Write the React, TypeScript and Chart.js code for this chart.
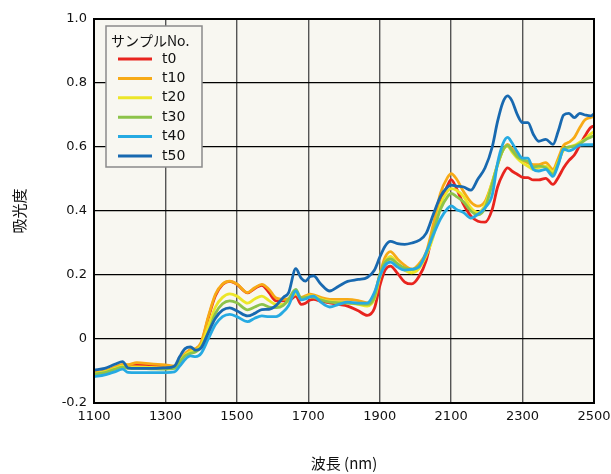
import React, { useEffect, useRef } from "react";
import { Chart, registerables } from "chart.js";

Chart.register(...registerables);

const wavelengths = [
  1100, 1130, 1160, 1180, 1195, 1220, 1260, 1300, 1325, 1340, 1355, 1370, 1385, 1400,
  1420, 1440, 1460, 1480, 1500, 1530, 1550, 1570, 1590, 1610,
  1630, 1645, 1665, 1680, 1692, 1705, 1715, 1735, 1760, 1785, 1810,
  1840, 1865, 1885, 1900, 1915, 1930, 1950, 1970, 1990, 2010, 2030,
  2050, 2070, 2090, 2100, 2115, 2135, 2155, 2175, 2195, 2215, 2230, 2245,
  2258, 2270, 2285, 2300, 2315, 2330, 2345, 2365, 2385, 2400, 2415, 2430, 2445, 2460, 2475, 2490, 2500,
];

const t0 = [
  -0.107, -0.102, -0.09, -0.082, -0.083, -0.08, -0.083, -0.086, -0.088, -0.068, -0.048, -0.035, -0.032, -0.015,
  0.065, 0.135, 0.17, 0.18, 0.171, 0.144, 0.158, 0.168, 0.145, 0.119,
  0.119, 0.119, 0.134, 0.108, 0.112, 0.122, 0.124, 0.118, 0.113, 0.108, 0.103,
  0.088, 0.074, 0.095, 0.165, 0.215, 0.228, 0.205, 0.178, 0.172, 0.195, 0.245,
  0.34, 0.425, 0.48, 0.498, 0.47, 0.42, 0.385, 0.368, 0.365, 0.405, 0.475, 0.515,
  0.535, 0.525, 0.515, 0.505, 0.504, 0.497, 0.497, 0.502, 0.483, 0.505, 0.535, 0.558, 0.575, 0.605, 0.635, 0.66, 0.666,
];

const t10 = [
  -0.105, -0.1, -0.087, -0.079, -0.08, -0.074, -0.078, -0.081, -0.084, -0.065, -0.046, -0.033, -0.03, -0.01,
  0.07, 0.14, 0.172, 0.181, 0.172, 0.145, 0.16, 0.171, 0.155, 0.128,
  0.124, 0.125, 0.14, 0.13, 0.135, 0.14, 0.138, 0.13, 0.124, 0.124, 0.124,
  0.12, 0.113, 0.14, 0.2, 0.255, 0.273, 0.25, 0.23, 0.218, 0.235, 0.27,
  0.358, 0.455, 0.505, 0.517, 0.5, 0.46, 0.428, 0.415, 0.43, 0.49, 0.545, 0.59,
  0.608, 0.595, 0.577, 0.56, 0.55, 0.545, 0.545, 0.551, 0.53, 0.565, 0.605, 0.615, 0.63, 0.66, 0.685, 0.692, 0.695,
];

const t20 = [
  -0.108, -0.103, -0.092, -0.085, -0.088, -0.087, -0.089, -0.09, -0.09, -0.07, -0.05, -0.04, -0.035, -0.02,
  0.04, 0.1, 0.13, 0.141, 0.134, 0.112, 0.125, 0.134, 0.12, 0.108,
  0.108, 0.12, 0.143, 0.125, 0.13, 0.135, 0.134, 0.125, 0.118, 0.115, 0.113,
  0.108, 0.103, 0.125, 0.19, 0.24, 0.258, 0.235, 0.215, 0.207, 0.22, 0.26,
  0.32, 0.42, 0.462, 0.47, 0.465, 0.445, 0.41, 0.395, 0.42, 0.49, 0.545, 0.59,
  0.603, 0.585, 0.565, 0.55, 0.54, 0.53, 0.535, 0.54, 0.522, 0.555, 0.59, 0.6, 0.605, 0.615, 0.625, 0.64, 0.648,
];

const t30 = [
  -0.11, -0.105, -0.094, -0.088, -0.092, -0.092, -0.093, -0.094, -0.092, -0.072, -0.053, -0.045, -0.04, -0.025,
  0.02, 0.08, 0.11, 0.119, 0.113, 0.091, 0.1, 0.108, 0.1, 0.098,
  0.105, 0.125, 0.155, 0.128, 0.13, 0.132, 0.13, 0.122, 0.115, 0.113, 0.112,
  0.11, 0.108, 0.13, 0.2, 0.24, 0.25, 0.235, 0.222, 0.217, 0.228, 0.265,
  0.335, 0.405, 0.445, 0.455, 0.445, 0.428, 0.4, 0.388, 0.41, 0.485, 0.545, 0.59,
  0.605, 0.59, 0.57, 0.56, 0.555, 0.538, 0.54, 0.535, 0.515, 0.55, 0.595, 0.6, 0.603, 0.61, 0.622, 0.63, 0.635,
];

const t40 = [
  -0.118, -0.112, -0.102, -0.094, -0.104, -0.105, -0.105, -0.105, -0.103, -0.085, -0.064, -0.053, -0.055, -0.045,
  0.0, 0.045, 0.07, 0.077, 0.07, 0.054, 0.065, 0.072, 0.07, 0.07,
  0.085, 0.105, 0.15, 0.122, 0.125, 0.132, 0.134, 0.115, 0.1, 0.108, 0.115,
  0.112, 0.112, 0.145, 0.195, 0.23, 0.24, 0.225, 0.215, 0.218, 0.225, 0.27,
  0.325, 0.375, 0.408, 0.416, 0.405, 0.395, 0.378, 0.39, 0.41, 0.45, 0.55, 0.61,
  0.63, 0.614, 0.585, 0.565, 0.565, 0.53, 0.525, 0.53, 0.508, 0.545, 0.593, 0.588, 0.595, 0.606, 0.607, 0.607, 0.607,
];

const t50 = [
  -0.097, -0.092, -0.078, -0.071, -0.09, -0.092, -0.092, -0.09, -0.085, -0.055, -0.03, -0.025, -0.035, -0.028,
  0.02, 0.065, 0.09, 0.097, 0.088, 0.072, 0.08, 0.092, 0.093, 0.105,
  0.13, 0.145, 0.22, 0.19, 0.181, 0.195, 0.197, 0.172, 0.15, 0.165, 0.18,
  0.186, 0.192, 0.215, 0.255, 0.29, 0.305, 0.298, 0.296, 0.3, 0.308, 0.33,
  0.389, 0.445, 0.475, 0.481, 0.478, 0.475, 0.465, 0.5, 0.535, 0.6, 0.68, 0.74,
  0.76, 0.745, 0.702, 0.676, 0.676, 0.64, 0.618, 0.624, 0.608, 0.65, 0.7, 0.705, 0.692, 0.705, 0.7, 0.697, 0.703,
];

const seriesLabels = ["t0", "t10", "t20", "t30", "t40", "t50"];
const seriesValues = [t0, t10, t20, t30, t40, t50];
const seriesColors = [
  "rgb(232,36,30)",
  "rgb(247,170,22)",
  "rgb(236,230,40)",
  "rgb(140,195,74)",
  "rgb(38,170,226)",
  "rgb(24,105,176)",
];

const legendTitle = "サンプルNo.";
const xTitle = "波長 (nm)";
const yTitle = "吸光度";

const PLOT_BG = "#f8f7f1";

const bgPlugin = {
  id: "plotBg",
  beforeDraw(chart: any) {
    const { ctx, chartArea } = chart;
    ctx.save();
    ctx.fillStyle = PLOT_BG;
    ctx.fillRect(chartArea.left, chartArea.top, chartArea.right - chartArea.left, chartArea.bottom - chartArea.top);
    ctx.restore();
  },
  afterDraw(chart: any) {
    const { ctx, chartArea } = chart;
    ctx.save();
    ctx.strokeStyle = "#000";
    ctx.lineWidth = 2;
    ctx.strokeRect(chartArea.left, chartArea.top, chartArea.right - chartArea.left, chartArea.bottom - chartArea.top);

    // legend box
    const bx = 106, by = 26, bw = 96, bh = 141;
    ctx.fillStyle = PLOT_BG;
    ctx.fillRect(bx, by, bw, bh);
    ctx.strokeStyle = "#8a8a8a";
    ctx.lineWidth = 1.5;
    ctx.strokeRect(bx, by, bw, bh);
    ctx.fillStyle = "#111";
    ctx.textBaseline = "middle";
    ctx.textAlign = "left";
    ctx.font = '14px "Noto Sans CJK JP", "DejaVu Sans", sans-serif';
    ctx.fillText(legendTitle, bx + 5, by + 15);
    ctx.font = '14px "DejaVu Sans", sans-serif';
    chart.data.datasets.forEach((ds: any, i: number) => {
      const y = by + 33 + i * 19.4;
      ctx.strokeStyle = ds.borderColor;
      ctx.lineWidth = 3;
      ctx.beginPath();
      ctx.moveTo(bx + 12, y);
      ctx.lineTo(bx + 46, y);
      ctx.stroke();
      ctx.fillStyle = "#111";
      ctx.fillText(ds.label, bx + 56, y);
    });
    ctx.restore();
  },
};

export default function App() {
  const ref = useRef<HTMLCanvasElement | null>(null);

  useEffect(() => {
    if (!ref.current) return;
    const datasets = seriesLabels.map((label, i) => ({
      label,
      data: wavelengths.map((w, j) => ({ x: w, y: seriesValues[i][j] })),
      borderColor: seriesColors[i],
      backgroundColor: seriesColors[i],
      borderWidth: 2.8,
      pointRadius: 0,
      fill: false,
      cubicInterpolationMode: "monotone" as const,
      order: seriesLabels.length - i,
    }));

    const chart = new Chart(ref.current, {
      type: "line",
      data: { datasets },
      plugins: [bgPlugin],
      options: {
        responsive: false,
        animation: false,
        events: [],
        layout: { padding: { left: 0, right: 17, top: 19, bottom: 0 } },
        plugins: {
          legend: { display: false },
          tooltip: { enabled: false },
        },
        scales: {
          x: {
            type: "linear",
            min: 1100,
            max: 2500,
            afterFit: (s: any) => {
              s.height = 71;
              s.paddingLeft = 0;
              s.paddingRight = 0;
            },
            ticks: {
              stepSize: 200,
              color: "#111",
              padding: 6,
              maxRotation: 0,
              font: { family: '"DejaVu Sans", sans-serif', size: 13 },
              callback: (v: any) => String(Math.round(Number(v))),
            },
            grid: { color: "#555", lineWidth: 1.4, drawTicks: false },
            border: { display: false },
            title: {
              display: true,
              text: xTitle,
              color: "#111",
              padding: { top: 0, bottom: 2 },
              font: { family: '"Noto Sans CJK JP", "DejaVu Sans", sans-serif', size: 15 },
            },
          },
          y: {
            min: -0.2,
            max: 1.0,
            afterFit: (s: any) => {
              s.width = 94;
              s.paddingTop = 0;
              s.paddingBottom = 0;
            },
            ticks: {
              stepSize: 0.2,
              color: "#111",
              padding: 7,
              font: { family: '"DejaVu Sans", sans-serif', size: 13 },
              callback: (v: any) => {
                const r = Math.round(Number(v) * 10) / 10;
                return r === 0 ? "0" : r.toFixed(1);
              },
            },
            grid: { color: "#000", lineWidth: 1.2, drawTicks: false },
            border: { display: false },
            title: {
              display: true,
              text: yTitle,
              color: "#111",
              padding: { top: 10, bottom: 0 },
              font: { family: '"Noto Sans CJK JP", "DejaVu Sans", sans-serif', size: 15 },
            },
          },
        },
      },
    });
    return () => chart.destroy();
  }, []);

  return (
    <div style={{ position: "fixed", left: 0, top: 0, width: 611, height: 474, background: "#fff" }}>
      <canvas ref={ref} width={611} height={474} style={{ display: "block" }} />
    </div>
  );
}
